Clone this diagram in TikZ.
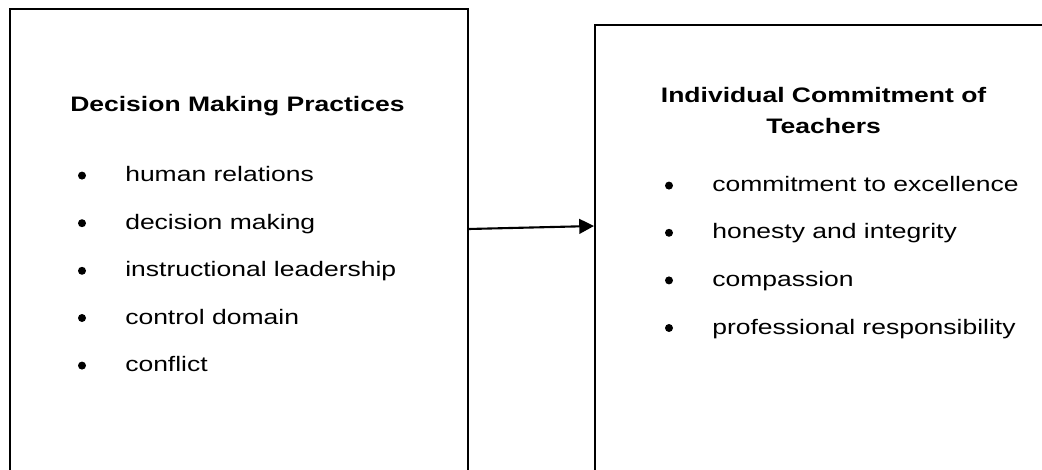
\documentclass[tikz,border=0pt]{standalone}
\usepackage{fontspec}
\setmainfont{Liberation Sans}[FakeStretch=1.265]
\usepackage{tikz}
\usetikzlibrary{arrows.meta, calc, positioning}

\tikzset{
	panel/.style={draw, line width=1.3pt, anchor=north west, inner sep=0pt, minimum height=12cm},
	heading/.style={inner sep=0pt, font=\fontsize{14.9}{22}\selectfont\bfseries},
	entry/.style={anchor=base west, inner sep=0pt, font=\fontsize{14.9}{18}\selectfont},
	dot/.style={circle, fill, inner sep=0pt, minimum size=0.2cm, yshift=0.15cm}
}

\begin{document}
\begin{tikzpicture}
		\clip (0cm,0cm) rectangle (26.05cm,-11.75cm);
		\draw (0.225cm,-0.2cm) node[panel, minimum width=11.45cm] (dmp) {}
		(14.85cm,-0.6cm) node[panel, minimum width=12cm] (ict) {};

		% left panel
		\draw (1.75cm,-2.79cm) node[heading, anchor=base west] (dmptitle) {Decision Making Practices}
		(2.05cm,-4.54cm) node[dot] (dl1) {}
		(3.125cm,-4.54cm) node[entry] (l1) {human relations}
		(2.05cm,-5.73cm) node[dot] (dl2) {}
		(3.125cm,-5.73cm) node[entry] (l2) {decision making}
		(2.05cm,-6.92cm) node[dot] (dl3) {}
		(3.125cm,-6.92cm) node[entry] (l3) {instructional leadership}
		(2.05cm,-8.10cm) node[dot] (dl4) {}
		(3.125cm,-8.10cm) node[entry] (l4) {control domain}
		(2.05cm,-9.29cm) node[dot] (dl5) {}
		(3.125cm,-9.29cm) node[entry] (l5) {conflict};

		% right panel
		\draw (20.59cm,-2.77cm) node[heading, align=center] (icttitle) {Individual Commitment of\\Teachers}
		(16.725cm,-4.79cm) node[dot] (dr1) {}
		(17.8cm,-4.79cm) node[entry] (r1) {commitment to excellence}
		(16.725cm,-5.97cm) node[dot] (dr2) {}
		(17.8cm,-5.97cm) node[entry] (r2) {honesty and integrity}
		(16.725cm,-7.16cm) node[dot] (dr3) {}
		(17.8cm,-7.16cm) node[entry] (r3) {compassion}
		(16.725cm,-8.35cm) node[dot] (dr4) {}
		(17.8cm,-8.35cm) node[entry] (r4) {professional responsibility};

		\draw[-{Triangle[length=10.5pt, width=10.5pt]}, line width=1.5pt] ([yshift=-5.525cm]dmp.north east) -- ([yshift=-5.05cm]ict.north west);
	\end{tikzpicture}
\end{document}
